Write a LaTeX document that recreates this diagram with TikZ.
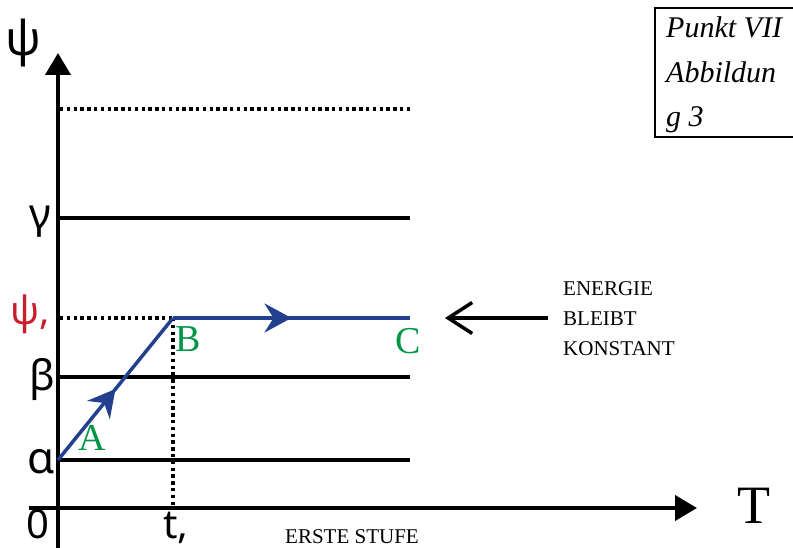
\documentclass[tikz,border=0pt]{standalone}
\usepackage{fontspec}
\setmainfont{Liberation Serif}
\newfontfamily\greekfont{Noto Sans}
\usetikzlibrary{arrows.meta,decorations.markings}
\definecolor{navy}{RGB}{35,64,143}
\definecolor{lblgreen}{RGB}{0,150,70}
\definecolor{lblred}{RGB}{200,30,45}
\tikzset{
  lvl/.style={line width=3.5pt},
  dots/.style={line width=3.4pt,dash pattern=on 3.4pt off 3.4pt},
  axisline/.style={line width=4pt,-{Triangle[length=22pt,width=25pt]}},
  blueline/.style={line width=3.5pt,draw=navy,postaction={decorate},
    decoration={markings,mark=at position 0.5 with {\arrow[navy]{Stealth[length=27pt,width=29pt,inset=9pt]}}}},
  glabel/.style={font=\greekfont\fontsize{40}{48}\selectfont,anchor=base,inner sep=0},
  ptlabel/.style={font=\fontsize{38}{44}\selectfont,text=lblgreen,anchor=base,inner sep=0},
  smalltext/.style={font=\fontsize{21}{30}\selectfont,inner sep=0},
}
\begin{document}
\begin{tikzpicture}[x=1pt,y=-1pt]
\useasboundingbox (0,0) rectangle (793,548);
\clip (0,0) rectangle (793,548);
% coordinates
\coordinate (ybot) at (58,548);
\coordinate (ytop) at (58,53);
\coordinate (xleft) at (29,508);
\coordinate (xright) at (697,508);
\coordinate (d0) at (60,109);  \coordinate (d1) at (410,109);
\coordinate (g0) at (58,218);  \coordinate (g1) at (410,218);
\coordinate (b0) at (58,377);  \coordinate (b1) at (410,377);
\coordinate (a0) at (58,460);  \coordinate (a1) at (410,460);
\coordinate (p0) at (60,318);
\coordinate (ptB) at (173,318);
\coordinate (ptC) at (410,318);
\coordinate (tB) at (173,508);
\coordinate (arrS) at (548,318);
\coordinate (arrE) at (445,318);
% levels
\draw[lvl] (g0) -- (g1);
\draw[lvl] (b0) -- (b1);
\draw[lvl] (a0) -- (a1);
\draw[dots] (d0) -- (d1);
\draw[dots] (p0) -- (ptB);
\draw[dots] (ptB) -- (tB);
% axes
\draw[axisline] (ybot) -- (ytop);
\draw[axisline] (xleft) -- (xright);
% path A-B-C
\draw[blueline] (a0) -- (ptB);
\draw[blueline] (ptB) -- (ptC);
% energy arrow
\draw[line width=3.5pt,-{Straight Barb[length=24pt,width=31pt,line width=3.5pt]}] (arrS) -- (arrE);
% labels
\node[glabel,font=\greekfont\fontsize{48}{56}\selectfont] (psi) at (23,56) {ψ};
\node[glabel,font=\greekfont\fontsize{42}{48}\selectfont] (gam) at (40,229) {γ};
\node[glabel,text=lblred,font=\greekfont\fontsize{39}{44}\selectfont] (psi1) at (30,324) {ψ,};
\node[glabel,font=\greekfont\fontsize{42}{48}\selectfont] (bet) at (42,390) {β};
\node[glabel,font=\greekfont\fontsize{44}{48}\selectfont] (alp) at (41,473) {α};
\node[glabel] (zero) at (38,538) {0};
\node[glabel] (tl) at (176,538) {t,};
\node[ptlabel] (lA) at (92,450) {A};
\node[ptlabel] (lB) at (188,352) {B};
\node[ptlabel] (lC) at (408,353) {C};
\node[anchor=base,inner sep=0,font=\fontsize{54}{60}\selectfont] (lT) at (754,523) {T};
\node[smalltext,anchor=base] (erste) at (352,543) {ERSTE STUFE};
\node[smalltext,anchor=base west] (en1) at (563,295) {ENERGIE};
\node[smalltext,anchor=base west] (en2) at (563,325) {BLEIBT};
\node[smalltext,anchor=base west] (en3) at (563,355) {KONSTANT};
% box
\draw[line width=2pt] (655,8) rectangle (805,137);
\node[anchor=base west,inner sep=0,font=\itshape\fontsize{30}{36}\selectfont] (bx1) at (666,38) {Punkt VII};
\node[anchor=base west,inner sep=0,font=\itshape\fontsize{30}{36}\selectfont] (bx2) at (666,83) {Abbildun};
\node[anchor=base west,inner sep=0,font=\itshape\fontsize{30}{36}\selectfont] (bx3) at (666,127) {g 3};
\end{tikzpicture}
\end{document}
